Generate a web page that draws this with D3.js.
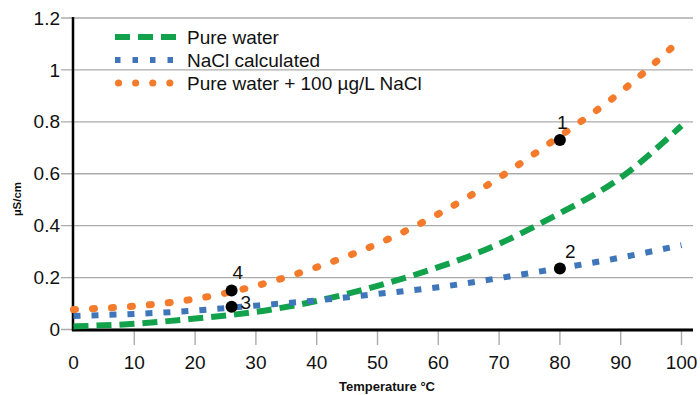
<!DOCTYPE html>
<html>
<head>
<meta charset="utf-8">
<script src="https://cdn.jsdelivr.net/npm/d3@7"></script>
<style>
  body { margin: 0; background: #fff; }
  text { font-family: "Liberation Sans", Arial, sans-serif; fill: #111; }
</style>
</head>
<body>
<div id="chart"></div>
<script>
var temps = [0, 10, 20, 30, 40, 50, 60, 70, 80, 90, 100];

// conductivity in µS/cm
var pureWater = [0.012, 0.022, 0.042, 0.068, 0.11, 0.168, 0.24, 0.33, 0.448, 0.585, 0.785];
var naclCalc  = [0.052, 0.06, 0.073, 0.092, 0.112, 0.137, 0.163, 0.198, 0.236, 0.277, 0.325];
var pureNacl  = [0.077, 0.09, 0.118, 0.168, 0.24, 0.33, 0.445, 0.585, 0.745, 0.915, 1.12];

var seriesNames = ["Pure water", "NaCl calculated", "Pure water + 100 µg/L NaCl"];

// numbered measurement points
var pointLabels = ["1", "2", "3", "4"];
var pointTemps = [80, 80, 26, 26];
var pointValues = [0.73, 0.235, 0.088, 0.15];

var xTicks = [0, 10, 20, 30, 40, 50, 60, 70, 80, 90, 100];
var yTicks = [0, 0.2, 0.4, 0.6, 0.8, 1, 1.2];

var width = 700, height = 395;

var x = d3.scaleLinear().domain([0, 100]).range([73.5, 681.5]);
var y = d3.scaleLinear().domain([0, 1.2]).range([329.5, 18]);

var svg = d3.select("#chart").append("svg")
    .attr("width", width)
    .attr("height", height);

// horizontal gridlines
svg.append("g")
    .selectAll("line")
    .data(yTicks)
    .enter().append("line")
    .attr("x1", 61).attr("x2", 693)
    .attr("y1", function(d) { return y(d); })
    .attr("y2", function(d) { return y(d); })
    .attr("stroke", "#ababab")
    .attr("stroke-width", 1.4);

// y tick labels
svg.append("g")
    .selectAll("text")
    .data(yTicks)
    .enter().append("text")
    .attr("x", 60)
    .attr("y", function(d) { return y(d); })
    .attr("dy", "0.35em")
    .attr("text-anchor", "end")
    .style("font-size", "19px")
    .text(function(d) { return d3.format("~g")(d); });

// x ticks below axis
svg.append("g")
    .selectAll("line")
    .data(xTicks.slice(1))
    .enter().append("line")
    .attr("x1", function(d) { return x(d); })
    .attr("x2", function(d) { return x(d); })
    .attr("y1", 331).attr("y2", 345)
    .attr("stroke", "#ababab")
    .attr("stroke-width", 1.4);

svg.append("g")
    .selectAll("text")
    .data(xTicks)
    .enter().append("text")
    .attr("x", function(d) { return x(d); })
    .attr("y", 369)
    .attr("text-anchor", "middle")
    .style("font-size", "19px")
    .text(function(d) { return d; });

// axis lines
svg.append("line")
    .attr("x1", 73).attr("x2", 73)
    .attr("y1", 17).attr("y2", 331)
    .attr("stroke", "#000").attr("stroke-width", 2.5);
svg.append("line")
    .attr("x1", 72).attr("x2", 693)
    .attr("y1", 330).attr("y2", 330)
    .attr("stroke", "#000").attr("stroke-width", 3);

// axis titles
svg.append("text")
    .attr("x", 387).attr("y", 391)
    .attr("text-anchor", "middle")
    .style("font-size", "13px")
    .style("font-weight", "bold")
    .text("Temperature °C");

svg.append("text")
    .attr("transform", "translate(21,199) rotate(-90)")
    .attr("text-anchor", "middle")
    .style("font-size", "11.5px")
    .style("font-weight", "bold")
    .text("µS/cm");

// series lines
var styles = [
    { color: "#12a24b", width: 6, dash: "15,8", cap: "butt" },
    { color: "#3f75b9", width: 6, dash: "7,11", cap: "butt" },
    { color: "#f47b2b", width: 7, dash: "2,17", cap: "round" }
];
var allSeries = [pureWater, naclCalc, pureNacl];

var line = d3.line()
    .x(function(d, i) { return x(temps[i]); })
    .y(function(d) { return y(d); })
    .curve(d3.curveNatural);

svg.append("g")
    .selectAll("path")
    .data(allSeries)
    .enter().append("path")
    .attr("d", line)
    .attr("fill", "none")
    .attr("stroke", function(d, i) { return styles[i].color; })
    .attr("stroke-width", function(d, i) { return styles[i].width; })
    .attr("stroke-dasharray", function(d, i) { return styles[i].dash; })
    .attr("stroke-linecap", function(d, i) { return styles[i].cap; });

// legend
var legend = svg.append("g")
    .selectAll("g")
    .data(seriesNames)
    .enter().append("g")
    .attr("transform", function(d, i) { return "translate(115," + (37 + i * 23) + ")"; });

legend.append("line")
    .attr("x1", function(d, i) { return i == 2 ? 3.5 : 0; })
    .attr("x2", 62)
    .attr("y1", 0).attr("y2", 0)
    .attr("stroke", function(d, i) { return styles[i].color; })
    .attr("stroke-width", function(d, i) { return styles[i].width; })
    .attr("stroke-dasharray", function(d, i) { return i == 2 ? "0.1,17" : (i == 1 ? "5.5,12" : styles[i].dash); })
    .attr("stroke-linecap", function(d, i) { return styles[i].cap; });

legend.append("text")
    .attr("x", 72)
    .attr("y", 0)
    .attr("dy", "0.35em")
    .style("font-size", "19px")
    .text(function(d) { return d; });

// measurement points
var labelOffset = { "1": [-3, -11], "2": [5, -10], "3": [9, 2], "4": [1, -12] };

var pts = svg.append("g")
    .selectAll("g")
    .data(pointLabels)
    .enter().append("g");

pts.append("circle")
    .attr("cx", function(d, i) { return x(pointTemps[i]); })
    .attr("cy", function(d, i) { return y(pointValues[i]); })
    .attr("r", 6)
    .attr("fill", "#000");

pts.append("text")
    .attr("x", function(d, i) { return x(pointTemps[i]) + labelOffset[d][0]; })
    .attr("y", function(d, i) { return y(pointValues[i]) + labelOffset[d][1]; })
    .style("font-size", "19px")
    .text(function(d) { return d; });
</script>
</body>
</html>
